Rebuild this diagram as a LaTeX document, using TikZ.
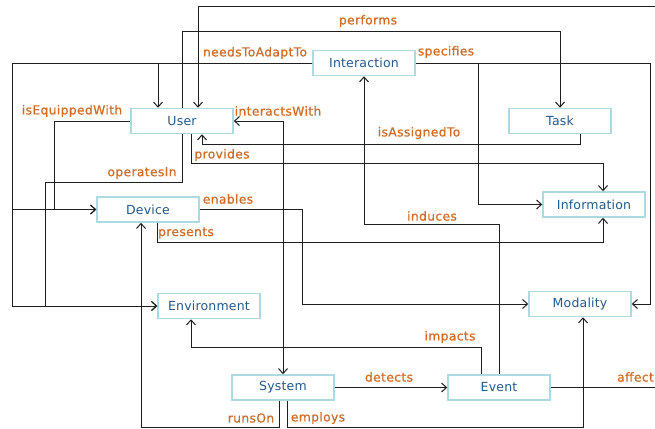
\documentclass[tikz,border=0pt]{standalone}
\usepackage{fontspec}
\setmainfont{DejaVu Sans}
\newfontfamily\lblfont[FakeBold=0.7,LetterSpace=3]{DejaVu Sans}
\newfontfamily\boxfont[LetterSpace=1.5]{DejaVu Sans}
\usetikzlibrary{arrows.meta}
\definecolor{boxline}{RGB}{172,218,224}
\definecolor{boxtext}{RGB}{38,88,138}
\definecolor{lbltext}{RGB}{206,108,40}
\definecolor{wire}{RGB}{30,30,30}
\tikzset{
  cls/.style={draw=boxline, line width=1.5pt, fill=white, minimum width=102pt, minimum height=25pt, inner sep=0pt, text=boxtext, font=\boxfont\fontsize{12.5}{14}\selectfont},
  lbl/.style={text=lbltext, inner sep=0pt, font=\lblfont\fontsize{12.3}{14}\selectfont},
  wirestyle/.style={draw=wire, line width=1pt},
  arr/.style={wirestyle, -{Straight Barb[length=5pt,width=9pt,line width=1pt]}},
  arrboth/.style={wirestyle, {Straight Barb[length=5pt,width=9pt,line width=1pt]}-{Straight Barb[length=5pt,width=9pt,line width=1pt]}}
}
\begin{document}
\begin{tikzpicture}[x=1pt,y=-1pt]
\useasboundingbox (0,0) rectangle (655,428);
\fill[white] (0,0) rectangle (655,428);

% nodes
\node[cls] (Interaction) at (364,63) {Interaction};
\node[cls] (User) at (182,121) {User};
\node[cls] (Task) at (560,121) {Task};
\node[cls] (Information) at (594,204.5) {Information};
\node[cls] (Device) at (148,209.5) {Device};
\node[cls] (Environment) at (209,306) {Environment};
\node[cls] (Modality) at (580,304) {Modality};
\node[cls] (System) at (283,387.5) {System};
\node[cls] (Event) at (499,387.5) {Event};

\coordinate (offR) at (655,7);
\coordinate (offE) at (655,387.5);

% connectors
\draw[arr] (offR) -| ([xshift=16pt]User.north);
\draw[arr] (User.north) -- (182,32) -| (Task.north);
\draw[arr] (Interaction.west) -| ([xshift=-24pt]User.north);
\draw[arr] (Interaction.west) -- (12,63) |- (Device.west);
\draw[arr] (Interaction.west) -- (12,63) |- (Environment.west);
\draw[arr] (User.south) -- (182,182) -- (45,182) |- (Environment.west);
\draw[arr] (User.west) -- (54,121) |- (Device.west);
\draw[arrboth] (User.east) -| (System.north);
\draw[arr] ([xshift=20pt]Task.south) -- (580,144) -| ([xshift=20pt]User.south);
\draw[arr] ([xshift=9pt]User.south) -- (191,163) -| ([xshift=9pt]Information.north);
\draw[arr] (Interaction.east) -- (650,63) |- (Modality.east);
\draw[arr] (Interaction.east) -- (478,63) |- (Information.west);
\draw[arr] (Event.north) -- (499,224) -| (Interaction.south);
\draw[arr] (Device.east) -- (302,209.5) |- (Modality.west);
\draw[arr] ([xshift=9pt]Device.south) -- (157,242) -| ([xshift=9pt]Information.south);
\draw[arr] ([xshift=-18pt]Event.north) -- (481,347) -| ([xshift=-18pt]Environment.south);
\draw[arr] (System.east) -- (Event.west);
\draw[wirestyle] (Event.east) -- (offE);
\draw[arr] ([xshift=-4pt]System.south) -- (279,427) -| ([xshift=-7pt]Device.south);
\draw[arr] ([xshift=4pt]System.south) -- (287,427) -| ([xshift=3pt]Modality.south);

% labels
\node[lbl] (l1) at (368,21) {performs};
\node[lbl] (l2) at (255,53) {needsToAdaptTo};
\node[lbl] (l3) at (446,52) {specifies};
\node[lbl] (l4) at (72,111) {isEquippedWith};
\node[lbl] (l5) at (278,111) {interactsWith};
\node[lbl] (l6) at (419,133) {isAssignedTo};
\node[lbl] (l7) at (222,155) {provides};
\node[lbl] (l8) at (142,173) {operatesIn};
\node[lbl] (l9) at (228,199) {enables};
\node[lbl] (l10) at (432,216) {induces};
\node[lbl] (l11) at (186,233) {presents};
\node[lbl] (l12) at (450,337) {impacts};
\node[lbl] (l13) at (389,377) {detects};
\node[lbl, anchor=west] (l14) at (617,377) {affect};
\node[lbl] (l15) at (251,418) {runsOn};
\node[lbl] (l16) at (318,418) {employs};
\end{tikzpicture}
\end{document}
